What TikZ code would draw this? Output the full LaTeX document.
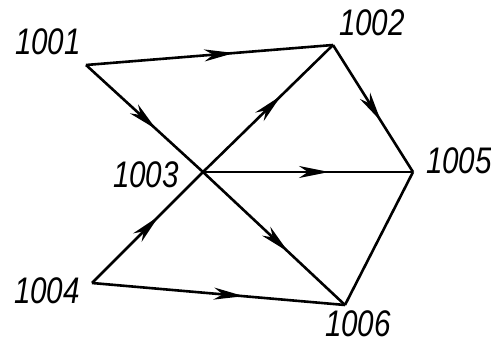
\documentclass[tikz,border=0pt]{standalone}
\usepackage{fontspec}
\setmainfont{Liberation Sans}
\usetikzlibrary{arrows.meta,decorations.markings}
\begin{document}
\begin{tikzpicture}[x=1pt,y=-1pt,line width=2.6pt,line join=round,
  edge/.style={draw,postaction={decorate},
    decoration={markings,mark=at position 0.6 with {\arrow{Stealth[length=30pt,width=12pt,inset=9pt]}}}},
  plain/.style={draw},
  lbl/.style={font=\fontsize{37}{37}\selectfont\itshape,inner sep=0pt}]
\useasboundingbox (0,0) rectangle (491,345);
\coordinate (a) at (86,65);
\coordinate (b) at (333,45);
\coordinate (c) at (203,172);
\coordinate (d) at (92,283);
\coordinate (e) at (413,172);
\coordinate (f) at (345,305);
\node[lbl] (la) at (48,42) {\scalebox{0.8}[1]{1001}};
\node[lbl] (lb) at (372,23) {\scalebox{0.8}[1]{1002}};
\node[lbl] (lc) at (146,175) {\scalebox{0.8}[1]{1003}};
\node[lbl] (ld) at (47,291) {\scalebox{0.8}[1]{1004}};
\node[lbl] (le) at (459,161) {\scalebox{0.8}[1]{1005}};
\node[lbl] (lf) at (358,324) {\scalebox{0.8}[1]{1006}};
\path[edge] (a) -- (b);
\path[edge] (a) -- (c);
\path[edge] (c) -- (b);
\path[edge] (b) -- (e);
\path[edge] (c) -- (e);
\path[edge] (c) -- (f);
\path[edge] (d) -- (c);
\path[edge] (d) -- (f);
\path[plain] (f) -- (e);
\end{tikzpicture}
\end{document}
